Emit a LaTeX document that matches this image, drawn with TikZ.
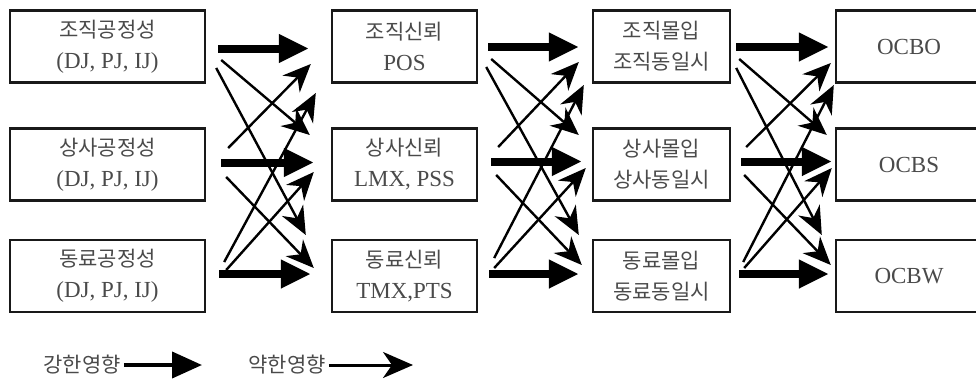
\documentclass[tikz,border=0pt]{standalone}
\usepackage{fontspec}
\setmainfont{Liberation Serif}
\newfontfamily\krfont{Noto Sans CJK KR}
\usetikzlibrary{arrows.meta,calc}
\newcommand\kor[1]{{\krfont\fontsize{21}{31}\selectfont #1}}
\definecolor{txt}{HTML}{4a4a4a}
\begin{document}
\begin{tikzpicture}[x=1pt,y=-1pt,
  box/.style={draw=black!90, line width=2.4pt, minimum height=72pt, inner sep=0pt,
    align=center, text=txt, font=\fontsize{23}{31}\selectfont},
  strong/.style={line width=8pt, -{Triangle[length=30pt,width=27pt]}},
  weak/.style={line width=2.4pt, -{Stealth[length=28pt,width=24pt,inset=9pt]}},
  legstrong/.style={line width=4pt, -{Triangle[length=30pt,width=26pt]}},
  legweak/.style={line width=3pt, -{Stealth[length=30pt,width=26pt,inset=9pt]}},
  legtext/.style={text=txt, inner sep=3pt},
]
\clip (0,0) rectangle (976,380);
% column 1
\node[box, minimum width=195pt] (a1) at (107.5,46.5) {\kor{조직공정성}\\(DJ, PJ, IJ)};
\node[box, minimum width=195pt] (a2) at (107.5,164.5) {\kor{상사공정성}\\(DJ, PJ, IJ)};
\node[box, minimum width=195pt] (a3) at (107.5,276) {\kor{동료공정성}\\(DJ, PJ, IJ)};
% column 2
\node[box, minimum width=145pt] (b1) at (404.5,46.5) {\kor{조직신뢰}\\POS};
\node[box, minimum width=145pt] (b2) at (404.5,164.5) {\kor{상사신뢰}\\LMX, PSS};
\node[box, minimum width=145pt] (b3) at (404.5,276) {\kor{동료신뢰}\\TMX,PTS};
% column 3
\node[box, minimum width=137pt] (c1) at (661.5,46.5) {\kor{조직몰입}\\\kor{조직동일시}};
\node[box, minimum width=137pt] (c2) at (661.5,164.5) {\kor{상사몰입}\\\kor{상사동일시}};
\node[box, minimum width=137pt] (c3) at (661.5,276) {\kor{동료몰입}\\\kor{동료동일시}};
% column 4
\node[box, minimum width=146pt] (d1) at (909,46.5) {OCBO};
\node[box, minimum width=146pt] (d2) at (909,164.5) {OCBS};
\node[box, minimum width=146pt] (d3) at (909,276) {OCBW};

% transition 1
\draw[strong] ($(a1.east)+(12,2)$) -- ($(b1.west)+(-22,2)$);
\draw[strong] ($(a2.east)+(15,-2)$) -- ($(b2.west)+(-17,-2)$);
\draw[strong] ($(a3.east)+(13,-2)$) -- ($(b3.west)+(-20,-2)$);
\draw[weak] ($(a1.east)+(15,13.5)$) -- ($(b2.west)+(-21,-29.5)$);
\draw[weak] ($(a1.east)+(10,21.5)$) -- ($(b3.west)+(-25,-41)$);
\draw[weak] ($(a2.east)+(22,-16.5)$) -- ($(b1.west)+(-20,17.5)$);
\draw[weak] ($(a2.east)+(20,12.5)$) -- ($(b3.west)+(-17,-8)$);
\draw[weak] ($(a3.east)+(18,-14)$) -- ($(b1.west)+(-15,46.5)$);
\draw[weak] ($(a3.east)+(20,-6)$) -- ($(b2.west)+(-17,7.5)$);

% transition 2
\draw[strong] ($(b1.east)+(10,0.5)$) -- ($(c1.west)+(-13,0.5)$);
\draw[strong] ($(b2.east)+(13,-3)$) -- ($(c2.west)+(-10,-3)$);
\draw[strong] ($(b3.east)+(11,-2)$) -- ($(c3.west)+(-13,-2)$);
\draw[weak] ($(b1.east)+(13,12.5)$) -- ($(c2.west)+(-13,-29.5)$);
\draw[weak] ($(b1.east)+(8,20.5)$) -- ($(c3.west)+(-13,-41)$);
\draw[weak] ($(b2.east)+(20,-17.5)$) -- ($(c1.west)+(-13,15.5)$);
\draw[weak] ($(b2.east)+(18,10.5)$) -- ($(c3.west)+(-10,-11)$);
\draw[weak] ($(b3.east)+(16,-18)$) -- ($(c1.west)+(-8,38.5)$);
\draw[weak] ($(b3.east)+(16,-8)$) -- ($(c2.west)+(-6,3.5)$);

% transition 3
\draw[strong] ($(c1.east)+(5,0.5)$) -- ($(d1.west)+(-6,0.5)$);
\draw[strong] ($(c2.east)+(10,-3)$) -- ($(d2.west)+(-3,-3)$);
\draw[strong] ($(c3.east)+(8,-2)$) -- ($(d3.west)+(-6,-2)$);
\draw[weak] ($(c1.east)+(8,12.5)$) -- ($(d2.west)+(-8,-29.5)$);
\draw[weak] ($(c1.east)+(5,21.5)$) -- ($(d3.west)+(-13,-41)$);
\draw[weak] ($(c2.east)+(15,-17.5)$) -- ($(d1.west)+(-4,16.5)$);
\draw[weak] ($(c2.east)+(13,10.5)$) -- ($(d3.west)+(-4,-11)$);
\draw[weak] ($(c3.east)+(12,-14)$) -- ($(d1.west)+(-1,38.5)$);
\draw[weak] ($(c3.east)+(13,-8)$) -- ($(d2.west)+(-3,3.5)$);

% legend
\node[legtext] (ls) at (82,365) {\kor{강한영향}};
\coordinate (lse) at (202,365);
\draw[legstrong] (ls.east) -- (lse);
\node[legtext] (lw) at (287,365) {\kor{약한영향}};
\coordinate (lwe) at (413,365);
\draw[legweak] (lw.east) -- (lwe);
\end{tikzpicture}
\end{document}
